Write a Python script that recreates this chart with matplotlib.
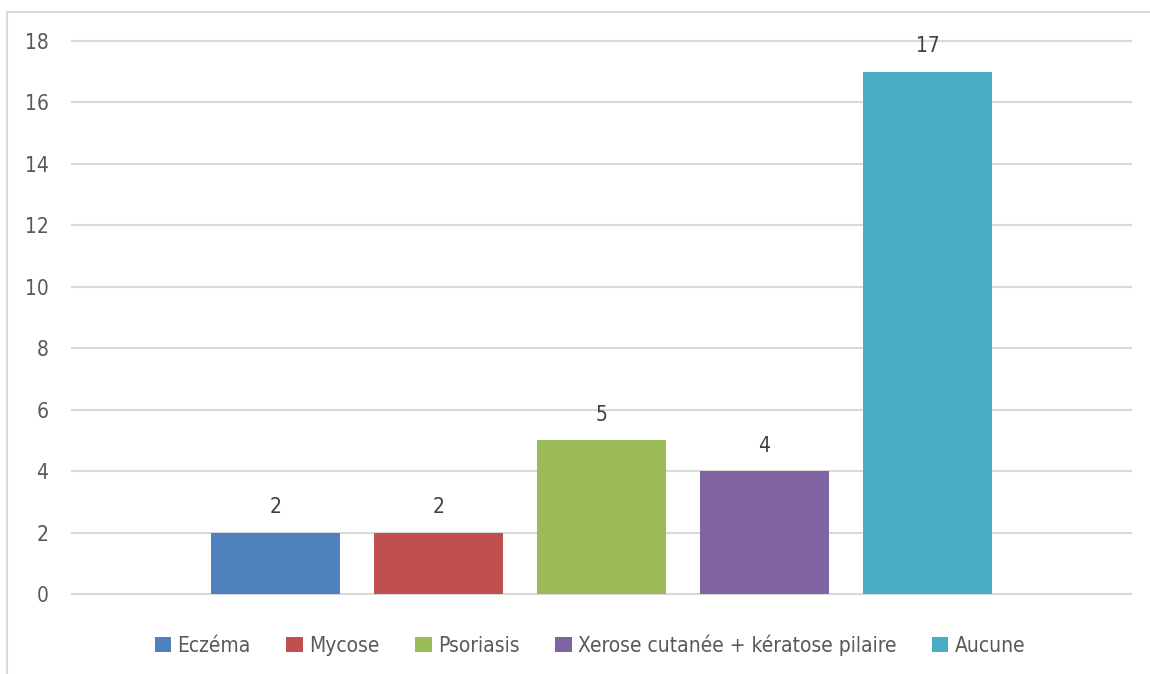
import matplotlib.pyplot as plt
from matplotlib.lines import Line2D
from matplotlib.patches import Patch

plt.rcParams['font.family'] = ['DejaVu Sans']
plt.rcParams['font.stretch'] = 'condensed'

labels = ['Eczéma', 'Mycose', 'Psoriasis', 'Xerose cutanée + kératose pilaire', 'Aucune']
values = [2, 2, 5, 4, 17]
colors = ['#4f81bd', '#c0504d', '#9bbb59', '#8064a2', '#4bacc6']
yticks = [0, 2, 4, 6, 8, 10, 12, 14, 16, 18]

W, H = 1150, 674
fig = plt.figure(figsize=(W / 100, H / 100), dpi=100)
ax = fig.add_axes([72 / W, (H - 594) / H, (1131 - 72) / W, (594 - 41) / H])

# one category, one bar per series
step = 163 / 1059
width = 129 / 1059
n = len(values)
for i, (lab, v, c) in enumerate(zip(labels, values, colors)):
    x = (i - (n - 1) / 2) * step
    ax.bar(x, v, width=width, color=c, label=lab, zorder=3)
    ax.text(x, v + 0.5, str(v), ha='center', va='bottom', fontsize=15,
            color='#404040')

ax.set_xlim(-0.5, 0.5)
ax.set_ylim(0, 18)
ax.set_yticks(yticks)
ax.set_xticks([])
ax.grid(axis='y', color='#d9d9d9', linewidth=1.5, zorder=0)
for gl in ax.get_ygridlines():
    gl.set_clip_on(False)
for s in ax.spines.values():
    s.set_visible(False)
ax.tick_params(axis='y', length=0, labelsize=15, labelcolor='#595959', pad=17)

handles = [Patch(facecolor=c, label=l) for c, l in zip(colors, labels)]
fig.legend(handles=handles, loc='center', bbox_to_anchor=(590 / W, 1 - 645 / H),
           ncol=5, frameon=False, fontsize=15, handlelength=0.8, handleheight=0.8,
           handletextpad=0.3, columnspacing=1.7, labelcolor='#595959')

# chart frame
fig.add_artist(Line2D([7 / W, 1.0], [1 - 12 / H, 1 - 12 / H], color='#d9d9d9',
                      linewidth=1.5, transform=fig.transFigure))
fig.add_artist(Line2D([7 / W, 7 / W], [0, 1 - 12 / H], color='#d9d9d9',
                      linewidth=1.5, transform=fig.transFigure))

fig.savefig('out.png', dpi=100)
